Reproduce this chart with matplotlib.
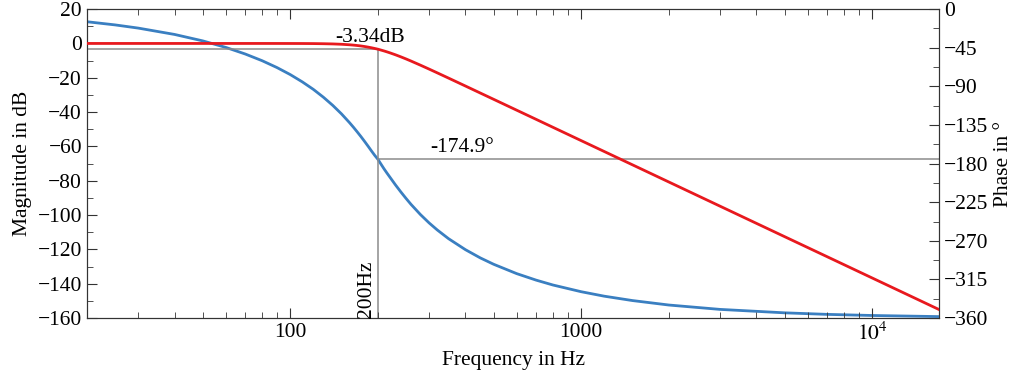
import numpy as np
import matplotlib
matplotlib.use("Agg")
import matplotlib.pyplot as plt
from matplotlib.ticker import MultipleLocator, FixedLocator, LogLocator, NullFormatter

plt.rcParams['font.family'] = ['Liberation Serif', 'DejaVu Serif']
plt.rcParams['mathtext.fontset'] = 'stix'

# Values (Bode plot, low-pass)
freq = [20, 25, 30, 40, 50, 60, 70, 80, 90, 100,
        110, 120, 130, 140, 150, 160, 165, 170, 175, 180,
        185, 190, 195, 200, 205, 210, 215, 220, 230, 240,
        250, 260, 280, 300, 320, 350, 400, 450, 500, 600,
        700, 800, 1000, 1200, 1500, 2000, 3000, 5000, 7000, 10000,
        17000]
mag_db = [0, 0, 0, 0, 0, 0, 0, 0, -0.01, -0.02,
          -0.04, -0.08, -0.16, -0.28, -0.48, -0.78, -0.98, -1.21, -1.47, -1.78,
          -2.12, -2.50, -2.92, -3.34, -3.86, -4.37, -4.91, -5.47, -6.62, -7.82,
          -9.03, -10.25, -12.64, -14.93, -17.12, -20.19, -24.80, -28.89, -32.54, -38.87,
          -44.22, -48.87, -56.62, -62.95, -70.70, -80.70, -94.79, -112.54, -124.22, -136.62,
          -155.06]
phase_deg = [-14.7, -18.4, -22.1, -29.5, -37.0, -44.6, -52.3, -60.1, -68.1, -76.3,
             -84.8, -93.5, -102.7, -112.2, -122.1, -132.5, -137.8, -143.2, -148.6, -154.1,
             -159.6, -165.1, -170.3, -174.9, -180.6, -186.1, -191.1, -195.8, -204.9, -213.1,
             -220.6, -227.5, -239.3, -249.1, -257.3, -267.5, -280.3, -289.9, -297.3, -308.2,
             -315.8, -321.5, -329.3, -334.5, -339.6, -344.8, -349.9, -353.9, -355.7, -357.0,
             -358.3]

f_mark = 200
mag_mark = -3.34
phase_mark = -174.9
x_ticks = [100, 1000, 10000]
x_labels = ['100', '1000', '$10^4$']

fig = plt.figure(figsize=(10.23, 3.8), dpi=100)
ax = fig.add_axes([0.085, 0.163, 0.833, 0.813])
ax2 = ax.twinx()

fs = 15.5
gray = '#8c8c8c'

# marker lines
ax.plot([freq[0], f_mark], [mag_mark, mag_mark], color=gray, lw=1.1, zorder=1)
ax.plot([f_mark, f_mark], [-160, mag_mark], color=gray, lw=1.1, zorder=1)
ax2.plot([f_mark, freq[-1]], [phase_mark, phase_mark], color=gray, lw=1.1, zorder=1)

ax2.plot(freq, phase_deg, color='#3a7fc1', lw=2, zorder=3)
ax.plot(freq, mag_db, color='#e8191e', lw=2, zorder=4)
ax.set_zorder(ax2.get_zorder() + 1)
ax.patch.set_visible(False)

ax.set_xscale('log')
ax.set_xlim(freq[0], freq[-1])
ax.set_ylim(-160, 20)
ax2.set_ylim(-360, 0)

ax.yaxis.set_major_locator(MultipleLocator(20))
ax.yaxis.set_minor_locator(MultipleLocator(10))
ax2.yaxis.set_major_locator(MultipleLocator(45))
ax2.yaxis.set_minor_locator(MultipleLocator(22.5))
ax.xaxis.set_major_locator(FixedLocator(x_ticks))
ax.set_xticklabels(x_labels)
ax.xaxis.set_minor_locator(LogLocator(base=10, subs=np.arange(2, 10)))
ax.xaxis.set_minor_formatter(NullFormatter())

ax.tick_params(axis='both', which='both', direction='in', top=True, right=False,
               labelsize=fs, colors='#333333', labelcolor='black')
ax.tick_params(which='major', length=7)
ax.tick_params(which='minor', length=4)
ax2.tick_params(axis='y', which='both', direction='in', labelsize=fs,
                colors='#333333', labelcolor='black')
ax2.tick_params(which='major', length=7)
ax2.tick_params(which='minor', length=4)
for a in (ax, ax2):
    for s in a.spines.values():
        s.set_color('#333333')

ax.set_xlabel('Frequency in Hz', fontsize=fs)
ax.set_ylabel('Magnitude in dB', fontsize=fs)
ax2.set_ylabel('Phase in °', fontsize=fs)

ax.text(188, mag_mark + 1.2, '-3.34dB', fontsize=fs, ha='center', va='bottom')
ax2.text(390, phase_mark + 2, '-174.9°', fontsize=fs, ha='center', va='bottom')
ax.text(f_mark * 0.985, -160, '200Hz', fontsize=fs, rotation=90, ha='right', va='bottom')

fig.savefig('out.png', dpi=100)
